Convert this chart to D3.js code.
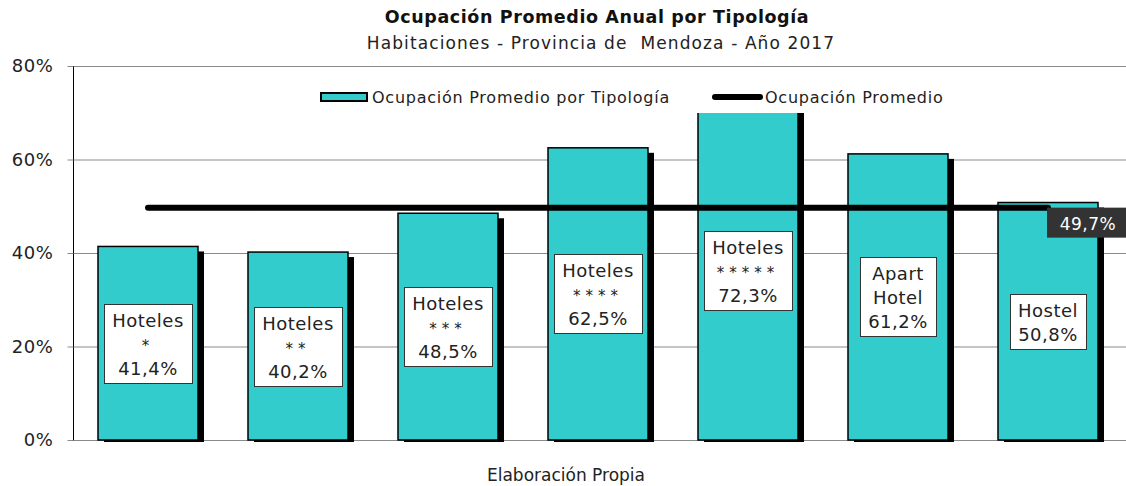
<!DOCTYPE html>
<html><head><meta charset="utf-8">
<script src="https://cdn.jsdelivr.net/npm/d3@7"></script>
<style>
body{margin:0;background:#fff;}
svg{display:block;}
text{font-family:"DejaVu Sans",Verdana,sans-serif;white-space:pre;}
</style></head>
<body>
<svg id="chart" width="1126" height="486"></svg>
<script>
const categories = ["Hoteles *", "Hoteles **", "Hoteles ***", "Hoteles ****", "Hoteles *****", "Apart Hotel", "Hostel"];
const labelLines = [["Hoteles","*"],["Hoteles","**"],["Hoteles","***"],["Hoteles","****"],["Hoteles","*****"],["Apart","Hotel"],["Hostel"]];
const values = [41.4, 40.2, 48.5, 62.5, 72.3, 61.2, 50.8];
const averageValue = 49.7;
const yTicks = [0, 20, 40, 60, 80];
const titleText = "Ocupación Promedio Anual por Tipología";
const subtitleText = "Habitaciones - Provincia de  Mendoza - Año 2017";
const legendLabels = ["Ocupación Promedio por Tipología", "Ocupación Promedio"];
const footerText = "Elaboración Propia";

const fmt = v => d3.format(".1f")(v).replace(".", ",") + "%";
const svg = d3.select("#chart");
const TEAL = "#33CCCC";

const x = d3.scaleBand().domain(categories).range([73, 1123]).paddingInner(1/3).paddingOuter(1/6);
const y = d3.scaleLinear().domain([0, 80]).range([440, 66]);

// gridlines
svg.append("g").selectAll("line").data(yTicks).join("line")
  .attr("x1", 73).attr("x2", 1126)
  .attr("y1", d => y(d) + 0.5).attr("y2", d => y(d) + 0.5)
  .attr("stroke", "#8a8a8a").attr("stroke-width", 1);

// y axis
const yAxis = d3.axisLeft(y).tickValues(yTicks).tickSize(6).tickPadding(14).tickFormat(d => d + "%");
const ag = svg.append("g").attr("transform", "translate(73.5,0)").call(yAxis);
ag.select(".domain").attr("stroke", "#000").attr("d", "M0," + y(80) + "V" + (y(0)+0.5));
ag.selectAll(".tick line").attr("stroke", "#8a8a8a");
ag.selectAll(".tick text").attr("font-size", 18).attr("fill", "#222").attr("letter-spacing", 0.6)
  .attr("font-family", "DejaVu Sans, sans-serif");

const data = categories.map((c, i) => ({c, v: values[i], lines: labelLines[i]}));

// shadows
svg.append("g").selectAll("rect").data(data).join("rect")
  .attr("x", d => x(d.c) + 6).attr("y", d => y(d.v) + 5)
  .attr("width", x.bandwidth()).attr("height", d => y(0) - y(d.v) - 3)
  .attr("fill", "#000");

// bars
svg.append("g").selectAll("rect").data(data).join("rect")
  .attr("x", d => x(d.c)).attr("y", d => y(d.v))
  .attr("width", x.bandwidth()).attr("height", d => y(0) - y(d.v))
  .attr("fill", TEAL).attr("stroke", "#000").attr("stroke-width", 1.5);

// average line
svg.append("line")
  .attr("x1", x(categories[0]) + x.bandwidth()/2)
  .attr("x2", x(categories[categories.length-1]) + x.bandwidth()/2)
  .attr("y1", y(averageValue)).attr("y2", y(averageValue))
  .attr("stroke", "#000").attr("stroke-width", 6).attr("stroke-linecap", "round");

// labels in bars
const lg = svg.append("g");
data.forEach(d => {
  const lines = d.lines.concat([fmt(d.v)]);
  const cx = x(d.c) + x.bandwidth()/2;
  const cy = (y(d.v) + y(0)) / 2;
  const h = lines.length * 24 + 7;
  const g = lg.append("g");
  const rect = g.append("rect");
  const top = cy - h/2;
  let maxW = 0;
  lines.forEach((t, i) => {
    const isStar = /^\*+$/.test(t);
    const tx = g.append("text").attr("x", cx).attr("y", top + 23 + i*24)
      .attr("text-anchor", "middle").attr("font-size", isStar ? 15 : 18)
      .attr("fill", "#222").attr("letter-spacing", isStar ? 5 : 0.5)
      .text(t);
    const w = tx.node().getComputedTextLength();
    if (!isStar) maxW = Math.max(maxW, w);
  });
  const bw = Math.round(maxW + 16);
  rect.attr("x", Math.round(cx - bw/2) + 0.5).attr("y", Math.round(top) + 0.5)
    .attr("width", bw).attr("height", h)
    .attr("fill", "#fff").attr("stroke", "#333").attr("stroke-width", 1);
});

// legend
svg.append("rect").attr("x", 312).attr("y", 82).attr("width", 645).attr("height", 31).attr("fill", "#fff");
svg.append("rect").attr("x", 321).attr("y", 93).attr("width", 46).attr("height", 8)
  .attr("fill", TEAL).attr("stroke", "#000").attr("stroke-width", 2);
svg.append("text").attr("x", 372).attr("y", 103).attr("font-size", 16).attr("letter-spacing", 0.75)
  .attr("fill", "#222").text(legendLabels[0]);
svg.append("line").attr("x1", 715).attr("x2", 760).attr("y1", 97).attr("y2", 97)
  .attr("stroke", "#000").attr("stroke-width", 6).attr("stroke-linecap", "round");
svg.append("text").attr("x", 765).attr("y", 103).attr("font-size", 16).attr("letter-spacing", 0.75)
  .attr("fill", "#222").text(legendLabels[1]);

// average label
const lx = x(categories[categories.length-1]) + x.bandwidth()/2;
const ly = y(averageValue);
svg.append("rect").attr("x", lx - 1).attr("y", ly).attr("width", 90).attr("height", 30).attr("fill", "#333");
svg.append("text").attr("x", lx + 40).attr("y", ly + 22).attr("text-anchor", "middle")
  .attr("font-size", 17).attr("letter-spacing", 0.5).attr("fill", "#fff").text(fmt(averageValue));

// titles
svg.append("text").attr("x", 597).attr("y", 23).attr("text-anchor", "middle")
  .attr("font-size", 17.5).attr("letter-spacing", 0.6).attr("font-weight", "bold").attr("fill", "#111").text(titleText);
svg.append("text").attr("x", 601).attr("y", 49).attr("text-anchor", "middle")
  .attr("font-size", 17).attr("letter-spacing", 1.1).attr("fill", "#222").text(subtitleText);
svg.append("text").attr("x", 566).attr("y", 481).attr("text-anchor", "middle")
  .attr("font-size", 17).attr("fill", "#222").attr("font-family", "Open Sans, sans-serif").text(footerText);
</script>
</body></html>
